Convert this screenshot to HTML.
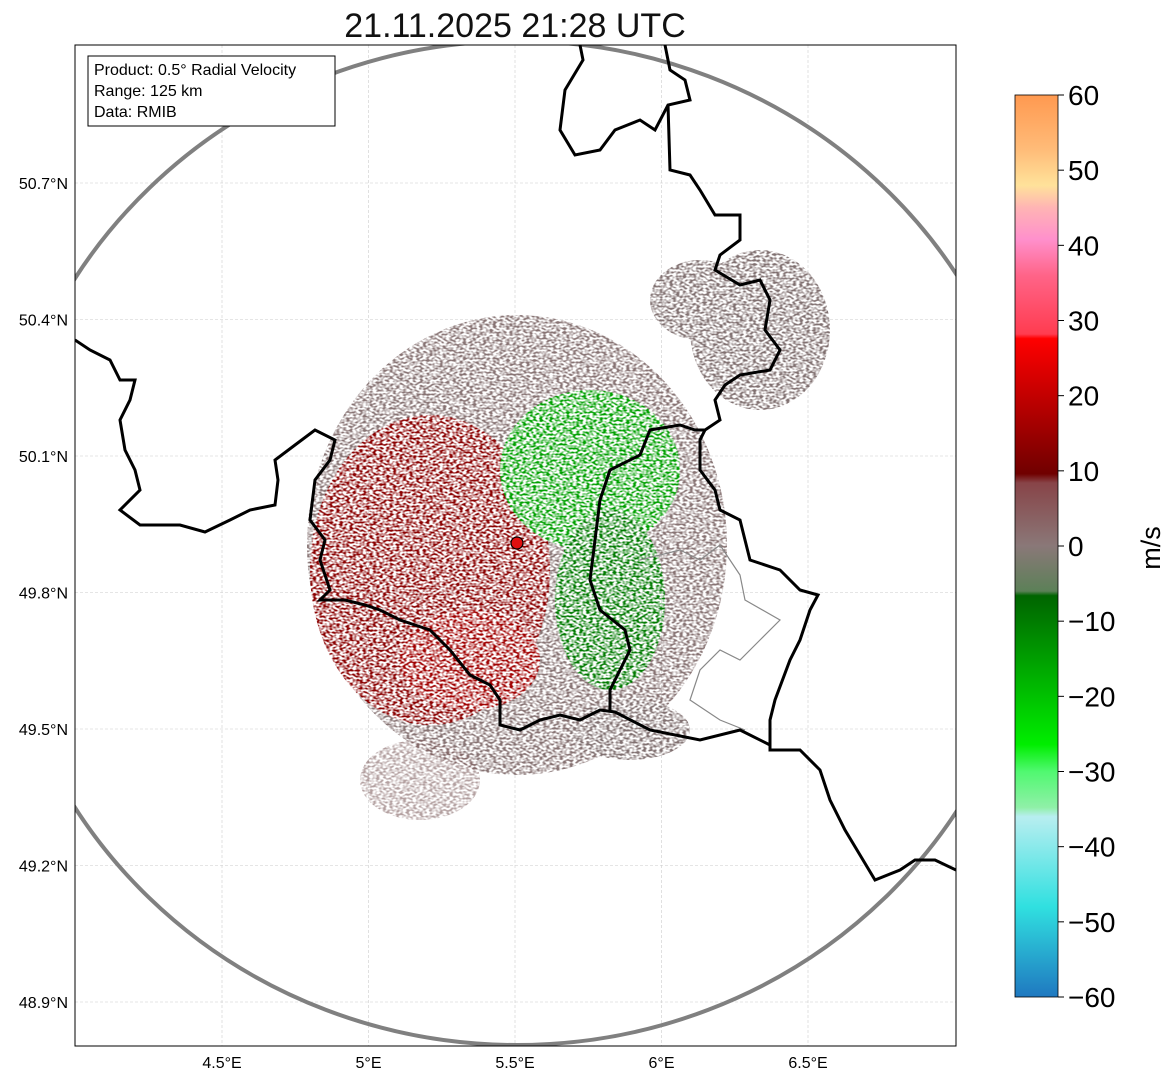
<!DOCTYPE html>
<html><head><meta charset="utf-8"><style>
body{margin:0;background:#fff;}
svg{display:block;font-family:"Liberation Sans",sans-serif;}
</style></head><body>
<svg id="chart" width="1171" height="1081" viewBox="0 0 1171 1081">
<defs>
<clipPath id="plotclip"><rect x="75" y="45" width="881" height="1001"/></clipPath>
<filter id="speck" x="0" y="0" width="100%" height="100%">
<feTurbulence type="fractalNoise" baseFrequency="0.3 0.5" numOctaves="1" seed="3" result="n"/>
<feColorMatrix in="n" type="matrix" values="0 0 0 0 0  0 0 0 0 0  0 0 0 0 0  0 0 0 3.4 -1.3" result="a"/>
<feComposite in="SourceGraphic" in2="a" operator="in"/>
</filter>
<linearGradient id="cbgrad" x1="0" y1="0" x2="0" y2="1">
<stop offset="0" stop-color="#ff9950"/><stop offset="0.06" stop-color="#ffbb78"/>
<stop offset="0.10" stop-color="#ffe29a"/><stop offset="0.125" stop-color="#ffb4b4"/>
<stop offset="0.16" stop-color="#ff90cc"/><stop offset="0.2" stop-color="#ff6488"/>
<stop offset="0.265" stop-color="#ff3c50"/><stop offset="0.27" stop-color="#ff0000"/>
<stop offset="0.42" stop-color="#700000"/><stop offset="0.43" stop-color="#884448"/>
<stop offset="0.5" stop-color="#8a7878"/><stop offset="0.55" stop-color="#5c8058"/>
<stop offset="0.555" stop-color="#006400"/><stop offset="0.72" stop-color="#00ee00"/>
<stop offset="0.75" stop-color="#50f870"/><stop offset="0.79" stop-color="#90f0a8"/>
<stop offset="0.80" stop-color="#b8eef0"/><stop offset="0.9" stop-color="#30e0e0"/>
<stop offset="1" stop-color="#1f78c0"/>
</linearGradient>
</defs>

<text x="515" y="37" font-size="34" text-anchor="middle" fill="#111">21.11.2025 21:28 UTC</text>

<g id="grid"></g>

<g clip-path="url(#plotclip)">
<g filter="url(#speck)">
<ellipse cx="517" cy="545" rx="210" ry="230" fill="#7a6464" opacity="0.9"/>
<ellipse cx="430" cy="570" rx="120" ry="155" fill="#8a0000"/>
<ellipse cx="470" cy="660" rx="70" ry="50" fill="#a00000"/>
<ellipse cx="590" cy="470" rx="90" ry="80" fill="#00a000"/>
<ellipse cx="610" cy="600" rx="55" ry="90" fill="#007a00"/>
<ellipse cx="760" cy="330" rx="70" ry="80" fill="#807070"/>
<ellipse cx="700" cy="300" rx="50" ry="40" fill="#807070"/>
<ellipse cx="630" cy="730" rx="60" ry="30" fill="#807070"/>
<ellipse cx="420" cy="780" rx="60" ry="40" fill="#806060" opacity="0.6"/>
</g>
<circle cx="517" cy="543" r="6" fill="#e01010" stroke="#000" stroke-width="1.2"/>
<ellipse cx="517" cy="543" rx="520" ry="502" fill="none" stroke="#808080" stroke-width="4"/>
<polyline fill="none" stroke="#888" stroke-width="1.2" points="640,560 680,550 700,560 720,545 740,575 745,600 780,620 760,640 740,660 720,650 700,670 690,700 720,720 745,730"/>
<polyline fill="none" stroke="#000" stroke-width="3" points="580,45 583,60 565,90 560,130 575,155 600,150 615,130 640,120 655,130 668,105 690,100 685,80 670,70 665,45"/>
<polyline fill="none" stroke="#000" stroke-width="3" points="668,105 670,170 690,175 700,190 715,215 740,215 740,240 720,255 715,270 740,285 760,280 770,300 765,330 780,350 770,370 740,375 725,385 715,400 720,420 705,430 700,440 700,470 715,490 720,510 740,520 750,560 780,570 800,590 818,595 810,610 800,640 790,660 775,700 770,720 770,750 800,750 820,770 830,800 845,830 860,855 875,880 900,870 915,860 935,860 956,870"/>
<polyline fill="none" stroke="#000" stroke-width="3" points="75,340 90,350 110,360 120,380 135,380 130,400 120,420 125,450 135,470 140,490 120,510 140,525 180,525 205,532 230,520 250,510 275,505 278,480 275,460 295,445 315,430 335,440 330,460 315,480 310,520 325,540 320,560 330,590 320,600 345,600 365,605 380,610 400,620 430,630 450,650 470,675 490,685 500,700 500,725 520,730 540,720 560,715 580,720 600,710 615,712 650,730 700,740 740,730 770,745"/>
<polyline fill="none" stroke="#000" stroke-width="3" points="610,712 610,690 620,670 630,650 625,630 600,610 590,580 595,540 600,500 610,470 640,455 650,430 680,425 695,430 705,430"/>
</g>

<rect x="75" y="45" width="881" height="1001" fill="none" stroke="#000" stroke-width="1"/>
<g id="ticks"></g>

<g>
<rect x="88" y="56" width="247" height="70" fill="#fff" stroke="#000" stroke-width="1"/>
<text x="94" y="75" font-size="16">Product: 0.5° Radial Velocity</text>
<text x="94" y="96" font-size="16">Range: 125 km</text>
<text x="94" y="117" font-size="16">Data: RMIB</text>
</g>

<rect x="1015" y="95" width="43" height="902" fill="url(#cbgrad)" stroke="#000" stroke-width="0.8"/>
<g id="cbticks"></g>
<text transform="translate(1160,548) rotate(-90)" font-size="27" text-anchor="middle">m/s</text>
</svg>
<script>
const lonTicks=[4.5,5,5.5,6,6.5];
const lonLabels=["4.5°E","5°E","5.5°E","6°E","6.5°E"];
const latTicks=[50.7,50.4,50.1,49.8,49.5,49.2,48.9];
const latLabels=["50.7°N","50.4°N","50.1°N","49.8°N","49.5°N","49.2°N","48.9°N"];
const cbValues=[60,50,40,30,20,10,0,-10,-20,-30,-40,-50,-60];
const xs=lon=>515+(lon-5.5)*293;
const ys=lat=>183+(50.7-lat)*455;
const cy=v=>95+(60-v)*902/120;
const NS="http://www.w3.org/2000/svg";
const grid=document.getElementById('grid'),ticks=document.getElementById('ticks'),cbt=document.getElementById('cbticks');
function mk(tag,attrs,parent,txt){const e=document.createElementNS(NS,tag);for(const k in attrs)e.setAttribute(k,attrs[k]);if(txt!==undefined)e.textContent=txt;parent.appendChild(e);return e;}
lonTicks.forEach((v,i)=>{const x=xs(v);
const g=mk('line',{x1:x,y1:45,x2:x,y2:1046,stroke:'#ccc','stroke-width':0.6,'stroke-dasharray':'3,2'},grid);


const t=mk('text',{x:x,y:1068,'font-size':16,'text-anchor':'middle'},ticks,lonLabels[i]);


});
latTicks.forEach((v,i)=>{const y=ys(v);
const g=mk('line',{x1:75,y1:y,x2:956,y2:y,stroke:'#ccc','stroke-width':0.6,'stroke-dasharray':'3,2'},grid);


const t=mk('text',{x:68,y:y+6,'font-size':16,'text-anchor':'end'},ticks,latLabels[i]);


});
cbValues.forEach(v=>{const y=cy(v);
mk('line',{x1:1058,y1:y,x2:1064,y2:y,stroke:'#000','stroke-width':1},cbt);
const t=mk('text',{x:1068,y:y+10,'font-size':28},cbt,(v<0?'\u2212'+(-v):String(v)));


});
</script>
</body></html>
